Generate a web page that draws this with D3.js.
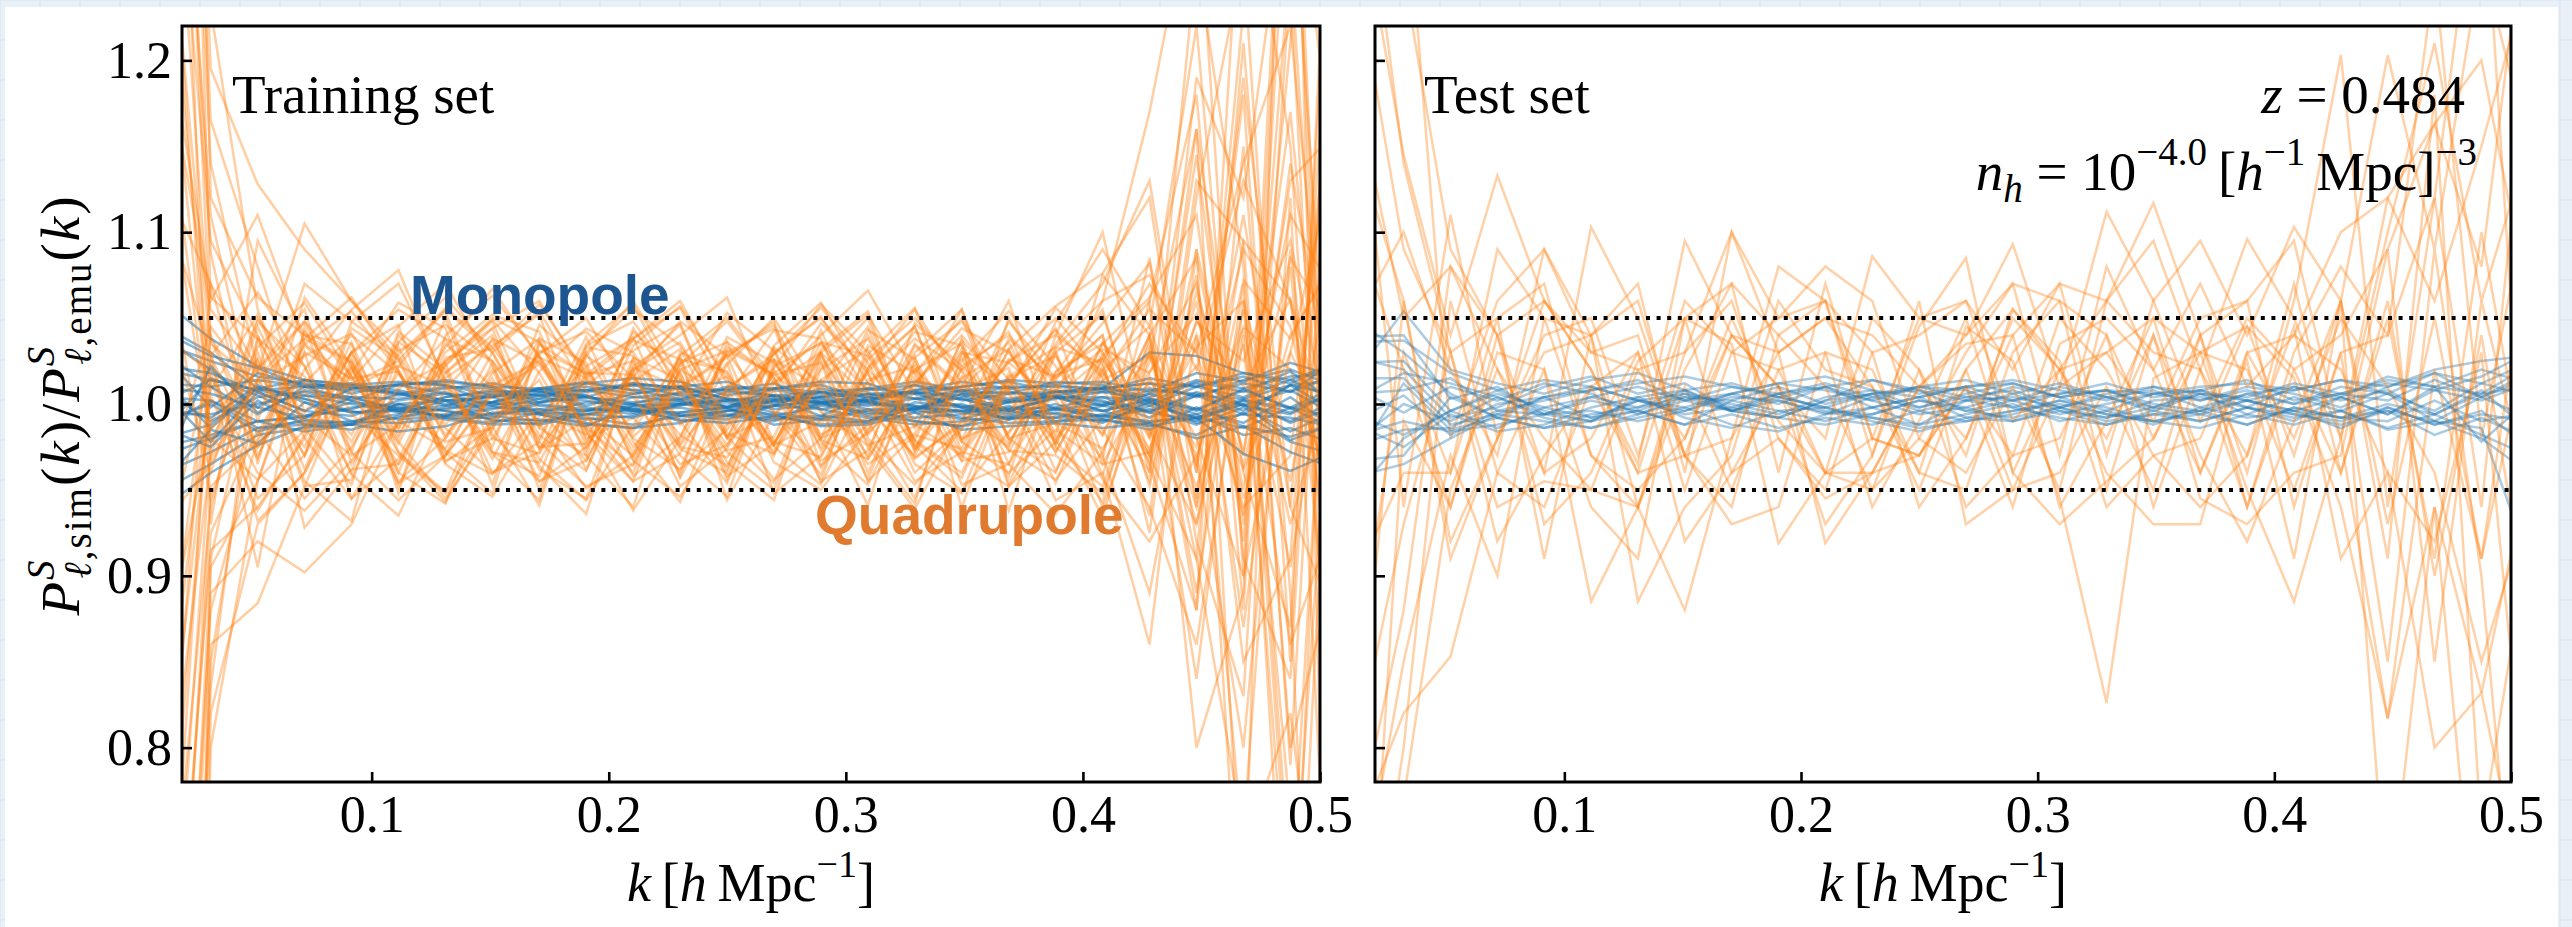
<!DOCTYPE html>
<html>
<head>
<meta charset="utf-8">
<script src="https://cdn.jsdelivr.net/npm/d3@7"></script>
<style>
  html, body { margin: 0; padding: 0; background: #ffffff; }
  svg { display: block; }
</style>
</head>
<body>
<svg id="fig" width="2572" height="927"></svg>
<script>
// Wavenumber bins, h/Mpc (first and last fall just outside the plotted range)
const kValues = [0.0123, 0.0321, 0.0519, 0.0717, 0.0915, 0.1113, 0.1311, 0.1509, 0.1707,
  0.1905, 0.2103, 0.2301, 0.2499, 0.2697, 0.2895, 0.3093, 0.3291, 0.3489, 0.3687,
  0.3885, 0.4083, 0.4281, 0.4479, 0.4677, 0.4875, 0.5073];

// Ratio P_sim / P_emu for each cosmology, stored as (ratio - 1) x 10^3
const trainQuadrupole = [
  [420, 35, 12, 28, 41, -5, -22, -14, 31, 18, 17, -26, -40, 22, 35, 8, -31, -12, 25, 40, 19, -34, 48, 10, 61, -40],
  [-510, -48, -22, 30, 15, 19, -27, -41, -4, -33, 21, 10, 28, 46, -5, -24, -13, 30, 9, -21, -57, 40, -55, 72, 38, 90],
  [880, 195, 128, 90, 60, 31, 46, 25, -18, -39, 27, 14, -19, -7, 30, 52, 6, -33, -28, 19, 35, 62, 110, -80, 260, -150],
  [-320, 12, -40, -62, -33, 8, 38, 25, -11, -49, -30, 24, 36, 15, -21, -32, 14, 7, -27, -44, -8, 28, -30, 45, 20, -60],
  [650, -70, 95, 40, 35, -52, 40, 63, 28, -17, -45, 30, 18, -24, -10, 43, 26, -20, -9, 31, -42, 60, 180, -120, 340, 120],
  [-900, -140, -116, -48, -44, 22, 10, -29, -56, 34, 48, 11, -27, -19, 36, 28, -21, -40, 16, 33, 24, -65, 130, 95, -280, -350],
  [210, 55, 18, 105, 60, 26, -35, -54, -7, 22, 38, 56, 5, -25, -47, 9, 42, 34, -20, -11, -26, 19, 52, -36, 85, 40],
  [-260, -30, 48, 22, -41, -65, -6, 38, 24, -11, -45, -29, 23, 50, 6, -35, -17, 20, 42, -24, 30, -15, -70, 44, -95, 70],
  [1200, 120, 62, 40, 25, -18, 30, 52, 42, -20, -8, -39, 33, 17, 24, -45, -18, -26, 32, 57, 76, 120, -60, 230, 400, -200],
  [-700, -110, -80, -98, -70, -10, -26, 18, 38, 24, -33, -54, -12, 29, 51, 6, -32, -10, 48, 15, 40, -48, 75, -150, -90, 300],
  [150, -22, 33, 59, 16, -28, -51, 11, 25, -14, -36, 20, 31, 17, -3, -59, 27, 48, 14, -23, 36, -11, 22, -38, 30, -25],
  [-180, 40, -18, 35, 54, 19, -33, -20, -29, 15, 37, 26, -20, 33, 12, -44, 24, -30, -48, -6, 13, -26, 40, -65, 140, -20],
  [560, 88, -35, 62, 22, -40, 25, 49, 18, -27, 34, 57, 15, -22, -31, 19, 45, -21, 38, 14, 47, 82, -40, 180, -210, 260],
  [-430, -85, -60, -20, 30, 46, -34, -13, -59, 28, 10, -25, -31, 8, 47, 20, -9, 27, -35, -64, -28, 35, -90, -250, 120, -420],
  [300, 8, 52, -14, -47, 36, 18, 40, -25, -23, 42, 18, -34, -56, 29, -16, 30, 55, -22, 17, 26, -18, 33, 60, -45, 100],
  [-1500, -200, -45, 38, 62, 20, -28, -52, 35, 17, 25, -43, 8, -28, 21, 50, -26, 15, 32, -20, 9, -40, 160, -310, 500, -600],
  [95, -55, 25, -48, 18, 59, 44, -28, -42, 30, -19, 6, 53, 31, -27, 14, 22, -47, -35, 29, -35, 14, -25, 90, 45, -80],
  [-90, 25, -68, -40, 10, 22, 55, 30, -22, -48, -35, 20, 4, 43, 38, -25, -61, -9, 24, 50, 16, 55, 30, -60, -30, 200],
  [720, 140, 20, -30, 48, 70, 14, -28, -34, 17, 39, -23, 30, -6, -41, 26, 50, 19, -42, 40, 100, -20, 260, 80, -300, 180],
  [-350, -60, 38, 16, -22, 29, 54, -18, -45, -33, 19, 46, -20, 34, 59, 12, -24, -51, -16, 8, -44, -80, -30, -200, 90, -150],
  [40, 18, -55, -30, 22, -14, 33, 67, 27, 15, -28, 24, -42, -23, 28, -18, 16, -33, 50, 4, 27, -20, 65, -28, 110, 60],
  [-620, -95, -45, 30, -55, -32, 23, 48, -14, 39, -22, -57, 10, 26, -18, -3, -30, 25, 54, 22, -18, 40, -110, 70, -380, 240],
  [980, 60, 110, 35, 14, 45, 70, 22, -26, 11, 31, 47, -17, -29, 14, 32, -21, 37, 8, -46, 19, -30, 145, -70, 210, 500],
  [-240, 5, -62, -18, 36, -28, -57, -11, 29, 50, 4, -35, -24, 14, -37, 21, 45, -28, -35, 12, -60, 16, -48, 35, -140, -60],
  [360, -32, 14, 48, 16, -23, 27, 32, 58, 18, -25, 9, 27, 48, -36, -12, 20, -6, -25, 33, 60, 75, 20, 130, 60, -90],
  [-800, -165, 40, -72, -38, -35, 18, 44, -26, -9, 17, -30, -54, 25, -20, 40, -14, 32, -48, -22, 35, 10, -160, 60, -240, -500],
  [130, 70, -30, 20, 55, 78, 12, -32, 19, 44, 30, -10, -46, 21, 58, 30, -22, -43, 18, -28, 22, -45, 90, -30, 170, -110],
  [-150, -10, 26, -45, -68, 33, -20, 15, -32, -56, -12, 26, 19, -30, 43, -20, -47, -15, 31, -11, -66, 30, -20, -100, 30, 150],
  [1600, 230, 55, -15, 22, -48, 9, 37, -12, 28, 60, 15, -38, 32, -22, -47, 9, 55, -13, 6, 60, 170, 310, -100, 420, 700],
  [-380, 30, -95, 45, -28, -56, -30, 7, 23, -15, 38, 60, 12, -24, 30, 4, -45, -28, 11, 44, -30, -110, 40, -260, -180, -400],
  [250, -15, 20, 55, -35, 10, 24, -47, 36, -6, -40, 28, 50, 15, -45, -27, 34, 8, 21, -39, 14, 28, -60, 55, -70, 30],
  [-50, 45, 8, -25, 30, -40, -58, 12, -20, 33, 28, -12, 24, -52, -30, 21, 55, 12, -24, 30, 52, -30, 48, 25, 95, -40],
  [500, 110, -10, 70, 48, 28, -12, 20, -36, -64, 26, -24, 9, 29, 56, 24, -27, 9, 36, -18, 75, 40, -120, 330, 150, -250],
  [-1100, -180, -70, -40, 20, -22, -55, -15, 38, -25, 13, 32, -19, -46, 25, -32, 12, 40, 6, -56, -40, -140, 90, -350, -420, 100],
  [60, -40, 45, -12, 12, 25, 56, 33, -4, -18, 20, -42, 36, -22, 11, 45, -28, 38, -46, 10, 32, 18, 70, -55, 40, 85],
  [-200, 15, -25, 8, -40, 40, 12, -25, 46, 22, -32, 18, -44, 20, -25, 29, 56, -22, 14, -28, 20, 45, -35, 110, -60, -130],
  [760, 165, 80, -5, 30, -15, 50, -20, 27, -30, -60, 23, 48, 12, 30, -40, 20, 35, -62, 18, 55, -40, 190, 120, 320, -90],
  [-460, -75, -15, -55, -25, 18, -30, 24, -50, 20, -16, 28, -56, -6, 14, -22, -58, 30, 24, 2, -32, 85, -80, -170, 250, -300],
  [330, 28, 65, 22, -28, 42, 20, -40, -22, 35, 58, 5, 16, -24, 32, 54, -25, 16, -27, -30, -52, 25, 160, -40, -130, 380],
  [-1300, -90, 30, -38, 26, -45, -20, 30, 54, 8, -42, -19, 30, 44, -20, -8, 28, -60, 12, 43, 15, -30, -90, 210, -110, -700],
  [230, 62, 38, -8, -30, -12, 25, 44, 60, 15, -20, -38, -15, 26, 9, -30, 47, 22, -6, 35, 70, 130, -40, 190, -60, 240],
  [-560, -120, -20, 34, 10, -46, -30, 5, 28, -15, -62, -20, 39, 24, -12, 18, -35, -52, 15, 28, -15, -60, -140, 40, -320, 80],
  [190, -20, -44, -15, 30, 55, 38, -10, 14, -38, 22, 40, 62, -5, -33, -17, 12, 44, 30, -12, 25, 70, 30, 140, 220, -60],
  [-290, 70, 20, 48, -6, -30, -52, -8, 30, 42, 15, -18, -36, 12, 40, 66, 18, -22, -40, -15, -35, -28, 60, -130, 80, -200],
  [640, 38, -25, 12, 40, 18, -14, -40, -28, 30, 55, 34, -8, -44, -20, 12, 38, 20, -18, 48, 90, 45, 220, -90, -160, 300],
  [-70, -35, 14, 38, 24, -20, 35, 10, -45, -25, 16, 48, 28, -34, -50, -15, 35, 10, 60, -25, -48, 32, -70, 95, 60, -120],
  [410, 95, 40, -20, -55, -10, 22, 50, 36, -8, -30, 14, -24, 30, 50, 18, -40, -14, 26, 16, 40, -75, 120, 260, -150, 420],
  [-950, -150, 15, -30, 44, 26, -18, 12, -38, -55, 20, 36, -12, 8, -45, 34, 18, 50, -20, -40, 28, 60, -200, -110, 380, -250],
  [120, 28, -32, 42, 6, -35, 15, 34, 52, -22, 8, -48, -26, 18, 36, -10, -55, 22, 40, 12, -18, 40, 85, -50, 130, 160],
  [-410, -25, 50, 12, -18, 36, 62, 30, -14, -30, 44, 6, -28, -50, 20, 38, -12, -30, 8, 56, 30, -35, -120, 150, -200, -90]
];

const trainMonopole = [
  [20, 14, 8, 10, 12, 6, 2, 4, 8, 10, 6, 9, 3, 1, 4, 8, 11, 7, 2, 5, 9, 12, 10, 4, 14, 2],
  [-25, -18, -10, -8, -2, 0, -4, -7, -10, -6, -3, 1, 2, -5, -9, -11, -2, -4, -6, 0, -8, -3, -12, -2, -16, -4],
  [35, 25, 16, 12, 10, 5, 9, 12, 7, 8, 4, 2, 9, 8, 5, 9, 13, 8, 3, 7, 10, 4, 14, 9, 16, 18],
  [-12, 2, -14, -10, -12, -2, -4, -9, -12, -6, -1, 2, -6, -9, -8, -3, -10, -13, -2, -6, -10, -1, -8, -14, -2, -16],
  [8, -10, 4, 7, 2, -5, -3, 1, 6, 5, -4, -2, -7, 2, 4, 6, 3, -1, -4, 4, 2, -8, 5, 3, -5, 8],
  [-40, -28, -14, -12, -15, -7, -6, -2, -3, -8, -12, -7, -4, -1, -3, -8, -12, -10, -7, -3, -4, -11, -6, -18, -14, -24],
  [45, 30, 9, 14, 11, 8, 2, 4, 9, 13, 8, 10, 3, 0, 7, 2, 8, 10, 13, 7, 9, 12, 4, 14, 20, 10],
  [4, 2, -10, -7, 1, -2, -8, -11, -5, 1, 0, -7, -9, -1, 2, 2, -2, -5, -8, -8, -1, -5, -10, 2, -2, -8],
  [-15, 15, 5, -7, -3, 6, 10, 9, -1, -4, 0, 7, 8, 5, 0, -6, -3, 4, 10, -3, 0, 8, 6, -4, 11, 14],
  [28, -2, 18, 11, 10, 6, 0, 5, 9, 12, 8, 3, -2, -1, 9, 5, 7, -2, -5, 8, -1, 6, 12, -1, -6, 8],
  [-50, -35, -18, -14, -12, -8, -2, -1, -6, -11, -14, -5, -2, -12, -9, -4, -3, -9, -1, -10, -6, -12, -18, -5, -22, -30],
  [12, 10, 14, 10, 2, 11, 14, 10, 1, 4, 12, 9, 8, 12, 1, 1, 8, 13, 9, 11, 8, 15, 10, 18, 12, 24],
  [-6, -6, 0, 5, 4, -4, -7, -6, 1, 4, 0, -6, -7, -10, 1, -1, 3, 3, -4, -8, -7, 1, -8, 0, -10, 2],
  [60, 38, 22, 14, 11, 13, 11, 5, 3, 12, 15, 13, 5, 9, 11, 3, 6, 10, 14, 12, 13, 7, 18, 13, 24, 16],
  [-30, -20, -10, -16, -12, 0, -9, -12, -11, -4, -2, -10, -7, -1, 1, -7, -10, -13, -8, -2, -9, -15, -2, -13, -19, -11],
  [2, 14, 8, 3, -5, -3, 4, 8, 5, -2, -6, -1, 7, 5, 3, -3, -3, 6, 7, 4, -1, 6, -3, 8, -2, 10],
  [-20, -12, 10, 3, -4, -9, -7, 1, 7, 5, -5, 0, -3, -8, -7, 4, 7, 3, -4, 4, -4, 3, -3, -11, 4, -15],
  [38, 20, -2, 14, 6, 12, 11, 0, 1, 7, 11, 10, 13, 4, 1, 2, 11, 2, 6, 13, 11, 1, 13, 7, 19, 0],
  [-10, 0, -16, -9, -11, 0, 2, -10, -9, -13, -1, 0, 1, -7, -12, -10, -2, 0, -9, -3, -7, -10, -8, 2, -11, -1],
  [22, 18, 7, -4, 9, 11, 6, -1, 5, 8, 11, 5, -2, 9, 7, 1, -3, 8, 6, 7, 7, 9, 5, 12, 7, 17],
  [-60, -40, -24, -13, -12, -16, -13, -5, -6, -12, -14, -11, -4, -6, -13, -12, -5, -15, -13, -11, -14, -11, -20, -13, -28, -38],
  [14, -14, 9, 5, 0, -4, 4, 7, 8, -1, 6, 10, 3, -3, 0, 6, 7, 5, -3, -2, 4, -5, 7, -1, 8, -7],
  [-35, 22, -5, 8, 4, -3, -7, -3, 3, 2, -3, -7, -4, 2, 4, 1, -5, -4, 1, 4, 4, 2, -6, 3, 11, 5],
  [6, -22, 7, -4, -7, 2, 6, 4, -5, -6, -8, 0, 2, 3, 1, -5, -8, -6, 1, 4, -4, 2, -11, -6, -8, -14],
  [30, 10, -6, 10, 8, 7, -1, 1, 9, 8, 12, 9, -2, 2, 7, 9, 6, -2, 2, 7, 9, -1, 10, 16, 7, 26],
  [-14, -25, 2, -12, -10, -6, 2, 1, -5, -9, -7, 0, -1, 3, -7, -10, 1, -2, -9, -5, -11, 1, -9, 0, -21, -11],
  [42, 28, 21, 10, 9, 11, 13, 10, 9, 4, 1, 3, 10, 9, 13, 12, 3, 8, 10, 10, 9, 30, 28, 18, 14, 24],
  [-45, -15, -23, 1, -10, -11, -8, -8, 0, -3, -4, -9, -11, -7, -1, 0, -1, -8, -11, -10, -9, -13, -8, -29, -39, -27],
  [10, 6, -2, -8, 4, 3, 7, -6, -3, -4, 4, 6, 2, 5, -3, 2, -4, 6, 1, 5, 1, -4, 5, -6, 11, -5],
  [-2, -8, 11, 1, -5, -4, -1, 6, 5, 4, -4, -5, -2, 5, 7, 4, -1, -4, -3, 3, 7, 3, -4, 9, -3, 7]
];

const testQuadrupole = [
  [300, 145, 40, 133, 60, 20, -35, 95, 40, 10, -20, 86, 50, 40, 93, 10, 112, 60, 95, 40, 103, 60, 203, 90, 260, 150],
  [-250, -180, -147, -40, -60, 10, 30, -30, -70, -60, 30, 20, -40, 45, 25, -55, -174, 15, 30, -50, -115, -20, -183, -60, -168, -40],
  [450, 320, -20, 60, 90, 40, -60, 30, 100, 50, 60, -30, 45, 85, -40, 20, 60, 95, 20, 96, 50, -20, 120, 163, 80, 300],
  [-380, -200, 60, -40, 20, -115, -60, -120, -20, 30, -81, -40, -30, 10, -60, 35, 50, 20, -40, 25, -90, 60, -300, -60, -350, -200],
  [150, 60, -80, -20, 30, 40, 70, -40, 100, 30, 50, 10, -40, -50, 30, 60, 40, -20, 40, -60, 30, 80, 40, 250, -20, 120],
  [-250, -120, 80, 40, -70, -40, 25, 50, 35, -81, -40, -50, 20, -30, 55, 20, -20, 40, -55, -70, -40, -30, 90, -150, 60, -50],
  [500, 250, 90, 40, -40, 103, 50, -30, -20, 80, 60, 30, -60, -20, 40, 70, 60, 117, 40, -40, 60, 203, -60, 120, 330, -100],
  [-150, 30, -40, 90, 50, -30, -60, 10, -50, 20, 30, -60, -10, 50, -40, -70, -45, -20, 30, 45, 15, -60, -183, 20, -90, 40],
  [200, -60, 110, -20, 60, 20, -40, 50, 70, -40, 70, -20, 50, 60, 20, 70, -30, 60, -10, 50, 20, 40, 90, 163, 200, 60],
  [-300, -150, -30, -100, 50, 40, 60, -30, 40, 10, -40, 50, 20, -60, -30, -20, 40, -60, 20, -30, 45, -90, -40, -200, -168, -300],
  [250, 90, 30, -60, -45, -50, 20, 30, 60, -20, -55, -40, 10, 35, 40, -60, -10, 50, 30, 20, -50, 30, 40, 120, -60, 200],
  [-100, -40, -40, 50, -90, 40, -115, -60, -30, 60, 20, 10, -50, 20, 55, 25, -60, -30, -20, 45, -30, 60, -90, 180, -250, -80],
  [50, 100, 20, -30, 90, 30, 40, -50, 30, 50, 80, 60, -20, 30, 70, -30, 80, 20, 70, 10, 40, 100, 120, 60, 150, 250],
  [-300, -230, -50, 20, -40, -20, 30, -80, -40, 10, -70, -30, 60, -70, -50, -40, 10, -50, 40, 60, -60, 30, -150, 90, -100, -400],
  [180, 50, 80, 20, -20, -50, -60, 20, 70, 40, 60, -20, -30, 10, -30, 50, 20, -30, -60, -30, 70, -40, 50, -90, 100, -50],
  [-450, -10, -60, 30, 20, -60, -90, 50, -40, -20, -50, 30, 40, 60, -10, 20, -40, -70, -70, 30, -20, 50, 10, -40, -150, -60],
  [350, 140, 30, 50, 70, -30, -50, -20, 40, 30, 50, 40, 10, -20, 50, 20, 30, -10, 50, 60, 95, -20, 100, 210, 60, 150],
  [-200, -70, 30, -80, -30, 10, -40, -30, -60, 40, 10, -50, -20, -40, 10, -50, 60, 30, 20, -60, 20, -40, 60, -100, 40, -120],
  [100, 20, -60, 40, 60, 30, 20, -20, 50, -10, -40, -40, 10, 40, 70, 60, -50, 40, -30, -80, -10, 60, -70, 50, -90, 90],
  [-200, 60, -90, -20, 40, 50, -30, 60, 30, 20, -40, -20, -30, 20, -50, 10, 30, 50, -40, 30, 40, 20, -40, -80, 30, -250]
];

const testMonopole = [
  [18, 54, 20, 12, 6, 14, 18, 8, 12, 4, 10, 14, 6, 10, 12, 4, 8, 6, 10, 12, 8, 14, 6, 18, 12, 24],
  [-30, 12, -15, -8, -14, -6, -2, 4, -4, -8, -12, -6, 2, -4, -8, -2, -10, -6, -4, 2, -6, -10, -2, -12, -4, -25],
  [36, 37, 18, 8, 14, 10, 2, -4, 6, 12, 16, 8, 4, 10, 14, 8, 2, 10, 6, 4, 12, 6, 14, 10, 20, 12],
  [-12, -25, -6, -16, -12, -2, 4, -8, -14, -4, -2, -8, -14, -10, -4, 0, -6, -10, -14, -6, -12, -4, -15, -10, -20, -40],
  [27, 20, -8, -2, 10, 16, 6, 12, -4, -8, 2, 14, 8, 2, 10, 4, -4, 6, 2, 10, 6, -2, 10, 18, 4, 15],
  [-42, -35, -20, -6, -10, -14, -8, -2, -12, -16, -6, -2, 4, -8, -10, -4, -12, -6, -10, -2, -8, -4, -14, -6, -18, -30],
  [6, 8, 15, -4, 2, 8, 12, 16, 10, 4, -2, 6, 10, 14, 6, 12, 4, -2, 8, 2, 8, 14, 10, 20, 25, 28],
  [-21, 0, -10, 4, -8, -14, -6, 2, -4, 4, -2, -10, -16, -8, -4, 2, -2, -10, -6, -12, -2, -8, -10, 2, -10, -5],
  [48, 30, 6, -8, 4, 8, 14, 2, 6, 12, 8, 2, 10, 4, 8, -2, 6, 10, 2, 8, 0, 10, 6, -4, 12, 5],
  [-6, -18, -4, 8, -4, -10, 4, 8, -2, -8, 2, 6, -4, 2, -2, -8, -12, -4, -10, -2, -6, -12, -4, -10, -14, -90],
  [15, 15, -12, -6, 4, 10, 2, 6, -4, 2, -6, 4, -2, 6, 12, 4, 8, -2, 6, 2, -4, 4, 16, 10, 6, 22],
  [-33, -30, 4, -8, -14, -10, -4, -12, -6, -14, -8, -12, -4, -10, -6, 2, -6, -10, -4, -12, -2, -8, -4, -18, -8, -20],
  [24, 25, -4, 6, -2, 4, 10, 2, 10, 6, 12, 4, 10, 8, -2, 6, 12, 4, 8, 14, 2, 6, 12, 8, 16, 30],
  [-18, -10, -16, -12, -6, -4, -10, -4, 4, 2, -5, -8, -12, 2, 4, -2, -8, 2, 4, -2, -10, 4, -6, 10, -22, 2],
  [3, 18, 12, 4, -6, 2, -4, 6, 0, -6, 4, 8, -2, 4, 2, -6, 0, 6, 8, -2, 10, 2, 8, -6, 6, 10],
  [-24, -15, -14, 0, 4, -8, 2, -6, -2, 6, -4, -6, 2, -2, 6, -4, -8, -2, -6, 2, -4, -8, 0, -6, 8, -15],
  [39, 40, 3, 10, -6, 4, -2, 8, -4, 6, 10, -2, 4, 10, 2, 6, 8, 0, -4, 6, 10, 4, -6, 8, 2, 12],
  [-51, -20, -4, -14, -2, -8, -4, -12, 2, -4, -10, -2, -12, -6, 0, -10, -4, -12, -2, -8, -4, -14, -2, -12, -6, -10],
  [9, -5, 10, 2, 12, 6, -6, 4, 2, 10, 0, 6, 8, -4, 2, 10, 4, 8, -2, 6, 0, 6, 2, 14, 4, 18],
  [-9, 5, -18, -4, -6, -10, 2, -2, 6, 0, 10, 2, -6, -2, -10, -2, 4, -4, 6, -6, 4, -4, 6, -10, 4, -8]
];

const xTicks = [0.1, 0.2, 0.3, 0.4, 0.5];
const yTicks = [0.8, 0.9, 1.0, 1.1, 1.2];
const toleranceBand = [0.95, 1.05];

const kDomain = [0.02, 0.5];
const ratioDomain = [0.78, 1.22];

const SERIF = "'Liberation Serif', 'DejaVu Serif', serif";
const SANS = "'Liberation Sans', Arial, sans-serif";
const ORANGE = "#ff7f0e";
const BLUE = "#1f77b4";

const svg = d3.select("#fig");
const W = 2572, H = 927;

// page backdrop with faint grid, and the white figure card on top
const bg = svg.append("g");
bg.append("rect").attr("width", W).attr("height", H).attr("fill", "#e9f0f7");
d3.range(0, W, 40).forEach(v => bg.append("line").attr("x1", v).attr("x2", v).attr("y1", 0).attr("y2", H)
  .attr("stroke", "#d6e3ef").attr("stroke-width", 1));
d3.range(0, H, 40).forEach(v => bg.append("line").attr("y1", v).attr("y2", v).attr("x1", 0).attr("x2", W)
  .attr("stroke", "#d6e3ef").attr("stroke-width", 1));
bg.append("rect").attr("x", 5).attr("y", 7).attr("width", 2553).attr("height", H - 7).attr("fill", "#ffffff");

const plotTop = 26, plotBottom = 782;
const y = d3.scaleLinear().domain(ratioDomain).range([plotBottom, plotTop]);

const panels = [
  { left: 182, right: 1320, quad: trainQuadrupole, mono: trainMonopole, qAlpha: 0.38, mAlpha: 0.55, labels: true },
  { left: 1375, right: 2511, quad: testQuadrupole, mono: testMonopole, qAlpha: 0.36, mAlpha: 0.38, labels: false }
];

const defs = svg.append("defs");

panels.forEach((p, pi) => {
  const x = d3.scaleLinear().domain(kDomain).range([p.left, p.right]);
  const g = svg.append("g");

  defs.append("clipPath").attr("id", "clip" + pi)
    .append("rect").attr("x", p.left).attr("y", plotTop)
    .attr("width", p.right - p.left).attr("height", plotBottom - plotTop);

  const line = d3.line()
    .x((d, i) => x(kValues[i]))
    .y(d => y(1 + d / 1000));

  const lines = g.append("g").attr("clip-path", `url(#clip${pi})`)
    .attr("fill", "none").attr("stroke-width", 2.5).attr("stroke-linejoin", "miter");

  // one cosmology at a time: monopole then quadrupole
  const n = Math.max(p.quad.length, p.mono.length);
  for (let i = 0; i < n; i++) {
    if (i < p.mono.length) {
      lines.append("path").attr("d", line(p.mono[i]))
        .attr("stroke", BLUE).attr("stroke-opacity", p.mAlpha);
    }
    if (i < p.quad.length) {
      lines.append("path").attr("d", line(p.quad[i]))
        .attr("stroke", ORANGE).attr("stroke-opacity", p.qAlpha);
    }
  }

  // +-5% reference lines
  lines.selectAll("line.band").data(toleranceBand).enter().append("line")
    .attr("x1", x(kDomain[0])).attr("x2", x(kDomain[1]))
    .attr("y1", d => y(d)).attr("y2", d => y(d))
    .attr("stroke", "#000").attr("stroke-width", 4)
    .attr("stroke-dasharray", "4 6.6").attr("stroke-dashoffset", -6);

  // axes with inward ticks
  const xAxis = d3.axisBottom(x).tickValues(xTicks).tickSize(-10).tickPadding(13)
    .tickFormat(d3.format(".1f"));
  const gx = g.append("g").attr("transform", `translate(0,${plotBottom})`).call(xAxis);
  gx.select(".domain").remove();
  gx.selectAll(".tick line").attr("stroke", "#000").attr("stroke-width", 2.6);
  gx.selectAll(".tick text").attr("font-family", SERIF).attr("font-size", 52).attr("fill", "#000");

  const yAxis = d3.axisLeft(y).tickValues(yTicks).tickSize(-10).tickPadding(10)
    .tickFormat(p.labels ? d3.format(".1f") : () => "");
  const gy = g.append("g").attr("transform", `translate(${p.left},0)`).call(yAxis);
  gy.select(".domain").remove();
  gy.selectAll(".tick line").attr("stroke", "#000").attr("stroke-width", 2.6);
  gy.selectAll(".tick text").attr("font-family", SERIF).attr("font-size", 52).attr("fill", "#000");

  // frame
  g.append("rect").attr("x", p.left).attr("y", plotTop)
    .attr("width", p.right - p.left).attr("height", plotBottom - plotTop)
    .attr("fill", "none").attr("stroke", "#000").attr("stroke-width", 3);

  // x-axis label: k [h Mpc^-1]
  const xl = g.append("text")
    .attr("x", (p.left + p.right) / 2).attr("y", 901)
    .attr("text-anchor", "middle").attr("font-family", SERIF).attr("font-size", 54).attr("fill", "#000");
  xl.append("tspan").attr("font-style", "italic").text("k");
  xl.append("tspan").text("\u2009[");
  xl.append("tspan").attr("font-style", "italic").text("h");
  xl.append("tspan").text("\u2009Mpc");
  xl.append("tspan").attr("font-size", 38).attr("dy", -24).text("\u22121");
  xl.append("tspan").attr("dy", 24).text("]");
});

// y-axis label, rotated
const yl = svg.append("text")
  .attr("transform", "translate(79,405) rotate(-90)")
  .attr("text-anchor", "middle").attr("font-family", SERIF).attr("font-size", 55)
  .attr("letter-spacing", 2).attr("fill", "#000");
function ratioTerm(sub) {
  yl.append("tspan").attr("font-style", "italic").text("P");
  yl.append("tspan").attr("font-style", "italic").attr("font-size", 39).attr("dy", -25).text("S");
  yl.append("tspan").attr("font-style", "italic").attr("font-size", 39).attr("dx", -20).attr("dy", 37).text("\u2113");
  yl.append("tspan").attr("font-size", 39).text("," + sub);
  yl.append("tspan").attr("dy", -12).text("(");
  yl.append("tspan").attr("font-style", "italic").text("k");
  yl.append("tspan").text(")");
}
ratioTerm("sim");
yl.append("tspan").text("/");
ratioTerm("emu");

// panel annotations
svg.append("text").attr("x", 232).attr("y", 113)
  .attr("font-family", SERIF).attr("font-size", 55).attr("fill", "#000").text("Training set");
svg.append("text").attr("x", 1424).attr("y", 113)
  .attr("font-family", SERIF).attr("font-size", 55).attr("fill", "#000").text("Test set");

const zt = svg.append("text").attr("x", 2465).attr("y", 113).attr("text-anchor", "end")
  .attr("font-family", SERIF).attr("font-size", 55).attr("fill", "#000");
zt.append("tspan").attr("font-style", "italic").text("z");
zt.append("tspan").text(" = 0.484");

const nt = svg.append("text").attr("x", 2477).attr("y", 190).attr("text-anchor", "end")
  .attr("font-family", SERIF).attr("font-size", 55).attr("fill", "#000");
nt.append("tspan").attr("font-style", "italic").text("n");
nt.append("tspan").attr("font-style", "italic").attr("font-size", 39).attr("dy", 12).text("h");
nt.append("tspan").attr("dy", -12).text(" = 10");
nt.append("tspan").attr("font-size", 39).attr("dy", -25).text("\u22124.0");
nt.append("tspan").attr("dy", 25).text("\u2009[");
nt.append("tspan").attr("font-style", "italic").text("h");
nt.append("tspan").attr("font-size", 39).attr("dy", -25).text("\u22121");
nt.append("tspan").attr("dy", 25).text("\u2009Mpc]");
nt.append("tspan").attr("font-size", 39).attr("dy", -25).text("\u22123");

// multipole labels
svg.append("text").attr("x", 410).attr("y", 314)
  .attr("font-family", SANS).attr("font-weight", "bold").attr("font-size", 55)
  .attr("fill", "#1c5590").text("Monopole");
svg.append("text").attr("x", 815).attr("y", 534)
  .attr("font-family", SANS).attr("font-weight", "bold").attr("font-size", 55)
  .attr("fill", "#e07a2e").text("Quadrupole");
</script>
</body>
</html>
